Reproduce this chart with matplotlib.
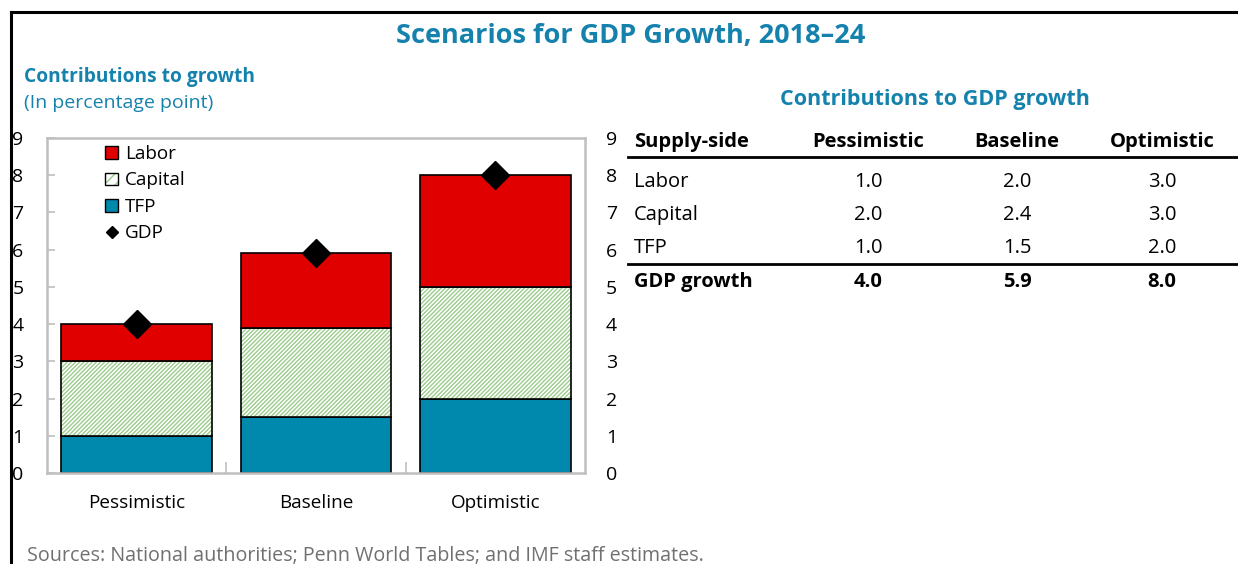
import matplotlib
matplotlib.use("Agg")
import matplotlib.pyplot as plt
from matplotlib.lines import Line2D
from matplotlib.patches import Patch

plt.rcParams['font.family'] = ['Open Sans', 'DejaVu Sans']
plt.rcParams['hatch.linewidth'] = 1.0

# ---- data ----
scenarios = ["Pessimistic", "Baseline", "Optimistic"]
tfp       = [1.0, 1.5, 2.0]
capital   = [2.0, 2.4, 3.0]
labor     = [1.0, 2.0, 3.0]
gdp       = [4.0, 5.9, 8.0]
yticks    = list(range(0, 10))

TEAL   = '#1482ad'
RED    = '#e00000'
BLUE   = '#0088ad'
GREEN  = '#9ccc8c'
SPINE  = '#bfbfbf'
FS     = 14.5   # table body

fig = plt.figure(figsize=(12.38, 5.64), dpi=100)

# frame lines along top and left edge
fig.add_artist(Line2D([11/1238, 1], [1 - 12/564, 1 - 12/564], color='black', lw=2.2))
fig.add_artist(Line2D([11/1238, 11/1238], [0, 1 - 12/564], color='black', lw=2.2))

fig.text(0.509, 1 - 36/564, "Scenarios for GDP Growth, 2018–24", ha='center', va='center',
         fontsize=19.5, fontweight='bold', color=TEAL)
fig.text(24/1238, 1 - 77/564, "Contributions to growth", ha='left', va='center',
         fontsize=13.8, fontweight='bold', color=TEAL)
fig.text(24/1238, 1 - 103/564, "(In percentage point)", ha='left', va='center',
         fontsize=14, color=TEAL)
fig.text(27/1238, 1 - 556/564, "Sources: National authorities; Penn World Tables; and IMF staff estimates.",
         ha='left', va='center', fontsize=14.2, color='#707070')

# ---- stacked bars ----
ax = fig.add_axes([47/1238, 91/564, 538/1238, 335/564])
x = range(len(scenarios))
w = 0.84
ax.bar(x, tfp, width=w, color=BLUE, edgecolor='black', lw=1.2, zorder=2)
cap_bottom = tfp
# hatch drawn in green, outline drawn separately in black
ax.bar(x, capital, width=w, bottom=cap_bottom, color='white', edgecolor=GREEN,
       hatch='////////', lw=0, zorder=2)
ax.bar(x, capital, width=w, bottom=cap_bottom, fill=False, edgecolor='black', lw=1.2, zorder=2)
lab_bottom = [t + c for t, c in zip(tfp, capital)]
ax.bar(x, labor, width=w, bottom=lab_bottom, color=RED, edgecolor='black', lw=1.2, zorder=2)
ax.plot(x, gdp, linestyle='none', marker='D', ms=14, color='black', zorder=3)

ax.set_xlim(-0.5, 2.5)
ax.set_ylim(0, 9)
ax.set_yticks(yticks)
ax.tick_params(axis='y', direction='in', length=6, color=SPINE, width=1.2,
               labelsize=14, pad=17, left=True, right=True)
ax.set_xticks([0.5, 1.5])
ax.set_xticklabels([])
ax.tick_params(axis='x', direction='in', length=8, color=SPINE, width=1.2)
for i, name in enumerate(scenarios):
    ax.text(i, -0.8, name, ha='center', va='center', fontsize=13.6)
for s in ax.spines.values():
    s.set_color(SPINE)
    s.set_linewidth(1.8)

# right-hand axis labels
axr = ax.twinx()
axr.set_ylim(ax.get_ylim())
axr.set_yticks(yticks)
axr.tick_params(axis='y', direction='in', length=0, labelsize=14, pad=15)
for s in axr.spines.values():
    s.set_visible(False)

handles = [Patch(facecolor=RED, edgecolor='black'),
           (Patch(facecolor='white', edgecolor=GREEN, hatch='///', lw=0),
            Patch(fill=False, edgecolor='black')),
           Patch(facecolor=BLUE, edgecolor='black'),
           Line2D([], [], linestyle='none', marker='D', ms=6, color='black')]
ax.legend(handles=handles, labels=['Labor', 'Capital', 'TFP', 'GDP'], loc='upper left',
          bbox_to_anchor=(0.077, 1.03), frameon=False,
          fontsize=13.6, handlelength=0.65, handleheight=0.65, handletextpad=0.4,
          labelspacing=0.45)

# ---- table ----
def fx(px):
    return px / 1238

def fy(py):
    return 1 - py / 564

fig.text(fx(935), fy(100), "Contributions to GDP growth", ha='center', va='center',
         fontsize=15.5, fontweight='bold', color=TEAL)

col_x = [fx(868), fx(1017), fx(1162)]
row_y = [fy(182), fy(215), fy(248)]
row_names = ["Labor", "Capital", "TFP"]
row_vals = [labor, capital, tfp]

fig.text(fx(634), fy(142), "Supply-side", ha='left', va='center', fontsize=FS, fontweight='bold')
for cx, name in zip(col_x, scenarios):
    fig.text(cx, fy(142), name, ha='center', va='center', fontsize=FS, fontweight='bold')
fig.add_artist(Line2D([fx(628), 1], [fy(157), fy(157)], color='black', lw=2))

for ry, name, vals in zip(row_y, row_names, row_vals):
    fig.text(fx(634), ry, name, ha='left', va='center', fontsize=FS)
    for cx, v in zip(col_x, vals):
        fig.text(cx, ry, f"{v:.1f}", ha='center', va='center', fontsize=FS)
fig.add_artist(Line2D([fx(628), 1], [fy(264), fy(264)], color='black', lw=2))

fig.text(fx(634), fy(282), "GDP growth", ha='left', va='center', fontsize=FS, fontweight='bold')
for cx, v in zip(col_x, gdp):
    fig.text(cx, fy(282), f"{v:.1f}", ha='center', va='center', fontsize=FS, fontweight='bold')

fig.savefig("out.png", dpi=100)
